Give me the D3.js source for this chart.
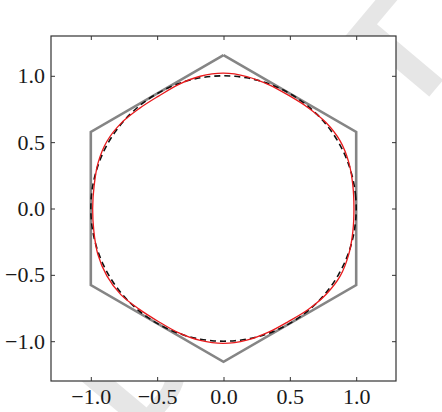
<!DOCTYPE html>
<html>
<head>
<meta charset="utf-8">
<script src="https://cdn.jsdelivr.net/npm/d3@7"></script>
<style>
  body { margin: 0; background: #fff; }
  .tick text { font-family: "Liberation Serif", serif; font-size: 22px; fill: #1a1a1a; }
</style>
</head>
<body>
<svg id="chart" width="442" height="412"></svg>
<script>
// tick values for both axes
const ticks = [-1.0, -0.5, 0.0, 0.5, 1.0];

// circumscribed hexagon (apothem 1), gray
const hexX = [0, 1, 1, 0, -1, -1, 0];
const hexY = [1.155, 0.577, -0.577, -1.155, -0.577, 0.577, 1.155];

const fitAngle = [0, 10, 20, 30, 40, 50, 60, 70, 80, 90, 100, 110, 120, 130, 140, 150, 160, 170,
  180, 190, 200, 210, 220, 230, 240, 250, 260, 270, 280, 290, 300, 310, 320, 330, 340, 350];
const fitRadius = [0.983, 0.990, 1.006, 1.016, 1.008, 0.992, 0.984, 0.994, 1.010, 1.020, 1.012, 0.994,
  0.978, 0.985, 1.004, 1.014, 1.006, 0.990, 0.986, 0.992, 1.008, 1.015, 1.010, 0.990,
  0.983, 0.996, 1.010, 1.017, 1.008, 0.992, 0.982, 0.993, 1.008, 1.016, 1.005, 0.990];

// unit circle, sampled every 5 degrees
const circleAngle = d3.range(0, 360, 5);

const svg = d3.select("#chart");
const margin = { left: 51, right: 46, top: 36, bottom: 31 };
const width = 442 - margin.left - margin.right;
const height = 412 - margin.top - margin.bottom;

// faint watermark behind the axes
svg.append("text")
  .attr("transform", "translate(262,214) rotate(-50)")
  .attr("text-anchor", "middle")
  .attr("dy", "0.35em")
  .style("font-family", "Liberation Sans, sans-serif")
  .style("font-weight", "bold")
  .style("font-size", "150px")
  .attr("fill", "#e6e6e6")
  .text("DRAFT");

const g = svg.append("g").attr("transform", `translate(${margin.left},${margin.top})`);

g.append("rect").attr("width", width).attr("height", height).attr("fill", "#fff");

const x = d3.scaleLinear().domain([-1.3, 1.3]).range([0, width]);
const y = d3.scaleLinear().domain([-1.3, 1.3]).range([height, 0]);
const fmt = d3.format(".1f");

g.append("g").attr("transform", `translate(0,${height})`)
  .call(d3.axisBottom(x).tickValues(ticks).tickFormat(fmt).tickSize(-4).tickPadding(7));
g.append("g")
  .call(d3.axisTop(x).tickValues(ticks).tickFormat("").tickSize(-4));
g.append("g")
  .call(d3.axisLeft(y).tickValues(ticks).tickFormat(fmt).tickSize(-4).tickPadding(6));
g.append("g").attr("transform", `translate(${width},0)`)
  .call(d3.axisRight(y).tickValues(ticks).tickFormat("").tickSize(-4));
g.selectAll(".domain").remove();
g.selectAll(".tick line").attr("stroke", "#333");

const line = d3.line().x(d => x(d[0])).y(d => y(d[1]));

// hexagon
g.append("path")
  .datum(hexX.map((v, i) => [v, hexY[i]]))
  .attr("d", line)
  .attr("fill", "none")
  .attr("stroke", "#858585")
  .attr("stroke-width", 2.6)
  .attr("stroke-linejoin", "miter");

// dashed unit circle
const circlePts = circleAngle.map(a => [Math.cos(a * Math.PI / 180), Math.sin(a * Math.PI / 180)]);
g.append("path")
  .datum(circlePts)
  .attr("d", line.curve(d3.curveCardinalClosed))
  .attr("fill", "none")
  .attr("stroke", "#111")
  .attr("stroke-width", 1.6)
  .attr("stroke-dasharray", "6,4");

// red fitted curve
const fitPts = fitAngle.map((a, i) => {
  const t = a * Math.PI / 180;
  return [fitRadius[i] * Math.cos(t), fitRadius[i] * Math.sin(t)];
});
g.append("path")
  .datum(fitPts)
  .attr("d", d3.line().x(d => x(d[0])).y(d => y(d[1])).curve(d3.curveCatmullRomClosed))
  .attr("fill", "none")
  .attr("stroke", "#e8191b")
  .attr("stroke-width", 1.3);

// frame
g.append("rect")
  .attr("width", width).attr("height", height)
  .attr("fill", "none")
  .attr("stroke", "#333")
  .attr("stroke-width", 1.2);
</script>
</body>
</html>
